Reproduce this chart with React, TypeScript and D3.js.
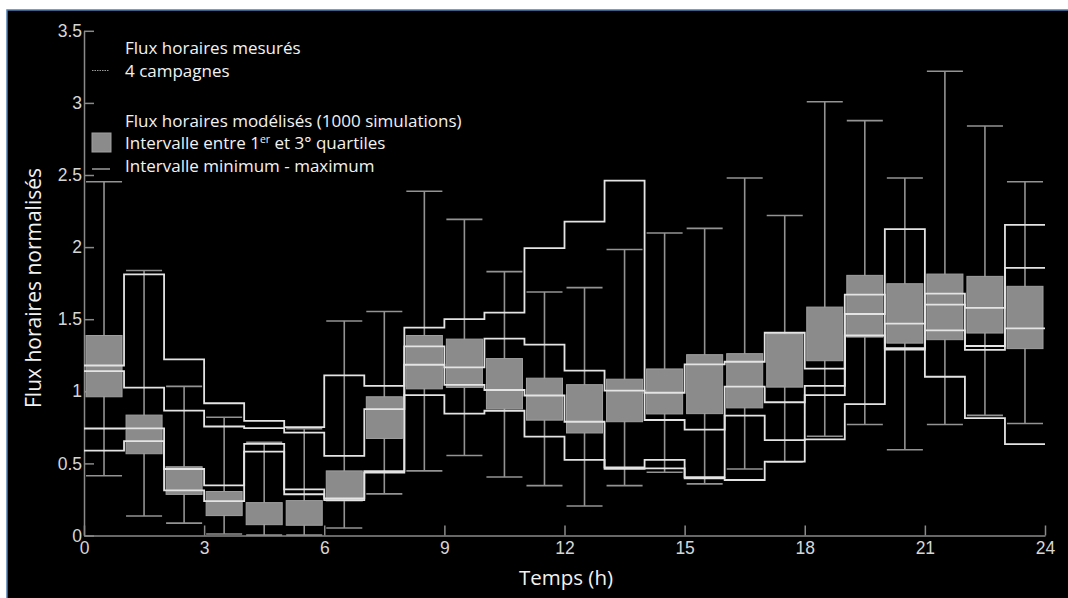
import { useEffect, useRef } from "react";
import * as d3 from "d3";

// hours of the day (box i spans hour i to i+1)
const hours = [0, 1, 2, 3, 4, 5, 6, 7, 8, 9, 10, 11, 12, 13, 14, 15, 16, 17, 18, 19, 20, 21, 22, 23];

// modelled hourly flows (1000 simulations)
const boxMin = [0.414, 0.135, 0.086, 0.01, 0.003, 0.003, 0.052, 0.289, 0.448, 0.555, 0.406, 0.346, 0.205, 0.346, 0.439, 0.358, 0.461, 0.51, 0.688, 0.77, 0.595, 0.77, 0.833, 0.777];
const boxQ1 = [0.962, 0.567, 0.285, 0.138, 0.075, 0.071, 0.24, 0.673, 1.017, 1.027, 0.878, 0.8, 0.711, 0.789, 0.843, 0.845, 0.885, 1.029, 1.212, 1.376, 1.334, 1.358, 1.404, 1.296];
const boxQ3 = [1.387, 0.835, 0.477, 0.305, 0.228, 0.242, 0.448, 0.962, 1.387, 1.362, 1.227, 1.091, 1.046, 1.084, 1.155, 1.254, 1.261, 1.399, 1.584, 1.804, 1.746, 1.813, 1.797, 1.728];
const boxMax = [2.453, 1.838, 1.034, 0.82, 0.647, 0.74, 1.488, 1.553, 2.387, 2.192, 1.83, 1.689, 1.719, 1.983, 2.098, 2.13, 2.479, 2.219, 3.008, 2.877, 2.479, 3.219, 2.84, 2.453];

// measured hourly flows, 4 campaigns
const campaign1 = [1.179, 1.811, 1.222, 0.917, 0.795, 0.751, 1.111, 1.038, 1.442, 1.501, 1.545, 1.993, 2.176, 2.461, 0.99, 1.187, 1.205, 1.406, 1.157, 1.67, 1.29, 1.423, 1.287, 1.436];
const campaign2 = [1.14, 1.025, 0.866, 0.756, 0.745, 0.713, 0.552, 0.876, 1.312, 1.166, 1.365, 1.323, 1.143, 1.004, 0.801, 0.734, 1.032, 0.924, 1.037, 1.536, 2.125, 1.101, 0.814, 0.634];
const campaign3 = [0.742, 0.743, 0.461, 0.347, 0.635, 0.32, 0.258, 0.447, 1.184, 1.044, 1.009, 0.971, 0.789, 0.472, 0.524, 0.405, 0.831, 0.661, 0.974, 1.387, 1.3, 1.601, 1.314, 1.856];
const campaign4 = [0.589, 0.655, 0.313, 0.238, 0.582, 0.286, 0.245, 0.436, 0.974, 0.845, 0.865, 0.686, 0.524, 0.462, 0.466, 0.396, 0.385, 0.513, 0.666, 0.911, 1.469, 1.677, 1.578, 2.154];

const xTicks = [0, 3, 6, 9, 12, 15, 18, 21, 24];
const yTicks = [0, 0.5, 1, 1.5, 2, 2.5, 3, 3.5];

const W = 1068;
const H = 598;
const textFont = "'Open Sans', sans-serif";
const tickFont = "'Liberation Sans', Arial, sans-serif";

export default function App() {
  const svgRef = useRef<SVGSVGElement | null>(null);

  useEffect(() => {
    if (!svgRef.current) return;
    const svg = d3.select(svgRef.current);
    svg.selectAll("*").remove();

    // page background + black slide area with blue top/left edge
    svg.append("rect").attr("width", W).attr("height", H).attr("fill", "#fff");
    svg.append("rect").attr("x", 7).attr("y", 10).attr("width", W).attr("height", H).attr("fill", "#000");
    svg
      .append("path")
      .attr("d", `M7,${H}V10H${W}`)
      .attr("fill", "none")
      .attr("stroke", "#4f7fb5")
      .attr("stroke-width", 1.5);

    const x = d3.scaleLinear().domain([0, 24]).range([84, 1045]);
    const y = d3.scaleLinear().domain([0, 3.5]).range([535.5, 30.8]);
    const pad = 0.05;
    const bw = x(1 - 2 * pad) - x(0);

    // axes
    const gx = svg
      .append("g")
      .attr("transform", `translate(0,${y(0)})`)
      .call(
        d3
          .axisBottom(x)
          .tickValues(xTicks)
          .tickSizeInner(-10)
          .tickSizeOuter(0)
          .tickPadding(6)
          .tickFormat((d) => String(d))
      );
    const gy = svg
      .append("g")
      .attr("transform", `translate(${x(0)},0)`)
      .call(
        d3
          .axisLeft(y)
          .tickValues(yTicks)
          .tickSizeInner(-10)
          .tickSizeOuter(0)
          .tickPadding(2)
          .tickFormat((d) => String(d))
      );
    [gx, gy].forEach((g) => {
      g.select(".domain").attr("stroke", "#8a8a8a").attr("stroke-width", 1.5);
      g.selectAll(".tick line").attr("stroke", "#8a8a8a").attr("stroke-width", 1.5);
      g.selectAll(".tick text")
        .attr("fill", "#d6d6d6")
        .attr("font-size", 17.5)
        .attr("font-family", tickFont);
    });

    // whiskers (min - max)
    const wk = svg.append("g").attr("stroke", "#939393").attr("stroke-width", 1.6);
    hours.forEach((h, i) => {
      const cx = x(h + 0.5);
      wk.append("line").attr("x1", cx).attr("x2", cx).attr("y1", y(boxMin[i])).attr("y2", y(boxMax[i]));
      [boxMin[i], boxMax[i]].forEach((v) => {
        wk.append("line")
          .attr("x1", x(h + pad))
          .attr("x2", x(h + 1 - pad))
          .attr("y1", y(v))
          .attr("y2", y(v));
      });
    });

    // interquartile boxes
    svg
      .append("g")
      .selectAll("rect")
      .data(hours)
      .enter()
      .append("rect")
      .attr("x", (h) => x(h + pad))
      .attr("y", (h, i) => y(boxQ3[i]))
      .attr("width", bw)
      .attr("height", (h, i) => y(boxQ1[i]) - y(boxQ3[i]))
      .attr("fill", "#8b8b8b")
      .attr("stroke", "#a0a0a0")
      .attr("stroke-width", 1);

    // measured campaigns as step lines
    const step = d3
      .line<number>()
      .x((d, i) => x(i))
      .y((d) => y(d))
      .curve(d3.curveStepAfter);
    [campaign1, campaign2, campaign3, campaign4].forEach((c) => {
      svg
        .append("path")
        .attr("d", step([...c, c[c.length - 1]]))
        .attr("fill", "none")
        .attr("stroke", "#e4e4e4")
        .attr("stroke-width", 1.8);
    });

    // legend
    const lg = svg.append("g").attr("font-family", textFont).attr("font-size", 17).attr("fill", "#f2f2f2");
    const lx = 125;
    lg.append("text").attr("x", lx).attr("y", 54).text("Flux horaires mesurés");
    lg.append("line")
      .attr("x1", 92)
      .attr("x2", 109)
      .attr("y1", 70.5)
      .attr("y2", 70.5)
      .attr("stroke", "#9a9a9a")
      .attr("stroke-width", 1.2)
      .attr("stroke-dasharray", "1.5,1");
    lg.append("text").attr("x", lx).attr("y", 77).text("4 campagnes");
    lg.append("text").attr("x", lx).attr("y", 127).text("Flux horaires modélisés (1000 simulations)");
    lg.append("rect")
      .attr("x", 92)
      .attr("y", 133)
      .attr("width", 19)
      .attr("height", 19)
      .attr("fill", "#8b8b8b")
      .attr("stroke", "#a0a0a0");
    const t = lg.append("text").attr("x", lx).attr("y", 149);
    t.append("tspan").text("Intervalle entre 1");
    t.append("tspan").attr("font-size", 10.5).attr("dy", -6).text("er");
    t.append("tspan").attr("dy", 6).text(" et 3° quartiles");
    lg.append("line")
      .attr("x1", 92)
      .attr("x2", 110)
      .attr("y1", 169)
      .attr("y2", 169)
      .attr("stroke", "#939393")
      .attr("stroke-width", 1.6);
    lg.append("text").attr("x", lx).attr("y", 172).text("Intervalle minimum - maximum");

    // axis titles
    svg
      .append("text")
      .attr("x", 566)
      .attr("y", 585)
      .attr("text-anchor", "middle")
      .attr("font-family", textFont)
      .attr("font-size", 20.5)
      .attr("fill", "#f2f2f2")
      .text("Temps (h)");
    svg
      .append("text")
      .attr("transform", "translate(41,288) rotate(-90)")
      .attr("text-anchor", "middle")
      .attr("font-family", textFont)
      .attr("font-size", 21)
      .attr("fill", "#f2f2f2")
      .text("Flux horaires normalisés");
  }, []);

  return (
    <svg
      ref={svgRef}
      width={W}
      height={H}
      style={{ position: "absolute", left: 0, top: 0, display: "block" }}
    />
  );
}
